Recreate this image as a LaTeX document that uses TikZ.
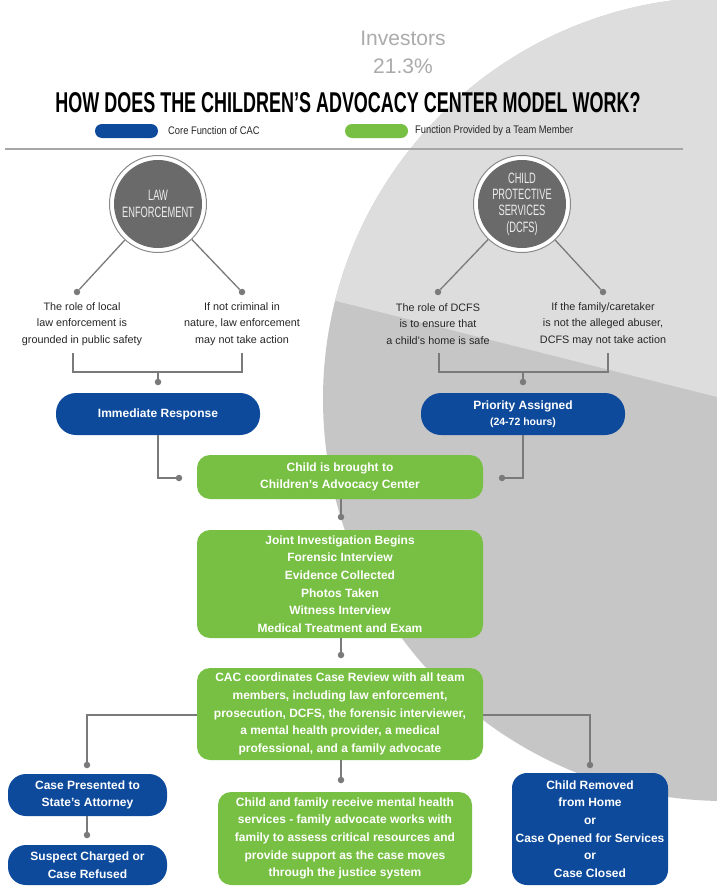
\documentclass[tikz,border=0pt]{standalone}
\usepackage{fontspec}
\usepackage{graphicx}
\setmainfont{Liberation Sans}
\newfontfamily\condfont[FakeStretch=0.62]{Liberation Sans}
\newfontfamily\legfont[FakeStretch=0.85]{Liberation Sans}
\definecolor{cacblue}{HTML}{0D4A9C}
\definecolor{cacgreen}{HTML}{77C043}
\definecolor{circgray}{HTML}{6A6A6A}
\definecolor{ringgray}{HTML}{8A8A8A}
\definecolor{linegray}{HTML}{7A7A7A}
\definecolor{pieLight}{HTML}{DDDDDD}
\definecolor{pieDark}{HTML}{C6C6C6}
\definecolor{labelgray}{HTML}{ABABAB}
\definecolor{notecol}{HTML}{262626}
\definecolor{circtext}{HTML}{EDEDED}
\tikzset{
 conn/.style={draw=linegray, line width=1.3pt},
 dotnode/.style={circle, fill=linegray, inner sep=0pt, minimum size=6.5pt},
 boxblue/.style={fill=cacblue, text=white, align=center, inner sep=0pt, font=\bfseries\fontsize{12}{17.6}\selectfont},
 boxgreen/.style={fill=cacgreen, text=white, align=center, inner sep=0pt, rounded corners=13pt, font=\bfseries\fontsize{12}{17.6}\selectfont},
 notetext/.style={text=notecol, align=center, inner sep=0pt, font=\fontsize{10.8}{16.5}\selectfont},
 ringnode/.style={circle, fill=white, draw=ringgray, line width=1pt, minimum size=97pt, inner sep=0pt},
 corenode/.style={circle, fill=circgray, minimum size=88pt, inner sep=0pt, text=circtext, align=center, font=\condfont\fontsize{15}{16.3}\selectfont},
 legtext/.style={text=notecol, anchor=west, inner sep=0pt, font=\legfont\fontsize{11}{12}\selectfont},
}
\begin{document}
\begin{tikzpicture}[x=1pt,y=-1pt]
\useasboundingbox (0,0) rectangle (717,886);
\fill[white] (0,0) rectangle (717,886);
% background pie chart
\begin{scope}
  \clip (0,0) rectangle (717,886);
  \fill[pieDark] (725,399) circle[radius=402];
  \begin{scope}
    \clip (725,399) circle[radius=402];
    \fill[pieLight] (725,399) -- (-5,215) -- (-5,-420) -- (740,-420) -- cycle;
  \end{scope}
\end{scope}
\node[text=labelgray, inner sep=0pt, font=\fontsize{21}{21}\selectfont] (inv) at (403,38) {Investors};
\node[text=labelgray, inner sep=0pt, font=\fontsize{21}{21}\selectfont] (invp) at (403,66) {21.3\%};
% title
\node[inner sep=0pt] (title) at (348,103) {\resizebox{585pt}{20pt}{\bfseries HOW DOES THE CHILDREN’S ADVOCACY CENTER MODEL WORK?}};
% legend
\node[fill=cacblue, rounded corners=7pt, minimum width=63pt, minimum height=14pt, inner sep=0pt] (lgb) at (126.5,131) {};
\node[legtext] (lgbt) at (168,131) {Core Function of CAC};
\node[fill=cacgreen, rounded corners=7pt, minimum width=63pt, minimum height=14pt, inner sep=0pt] (lgg) at (376.5,131) {};
\node[legtext] (lggt) at (415,131) {Function Provided by a Team Member};
\coordinate (sepL) at (5,149);
\coordinate (sepR) at (683,149);
\draw[draw=gray!70, line width=1.2pt] (sepL) -- (sepR);
% circles
\node[ringnode] (leR) at (158,204) {};
\node[corenode] (le) at (158,204) {LAW\\ENFORCEMENT};
\node[ringnode] (cpR) at (522,204) {};
\node[corenode] (cp) at (522,204) {CHILD\\PROTECTIVE\\SERVICES\\(DCFS)};
% dots under circles
\node[dotnode] (ld1) at (77,292) {};
\node[dotnode] (ld2) at (242,292) {};
\node[dotnode] (rd1) at (438,292) {};
\node[dotnode] (rd2) at (603,292) {};
\draw[conn] (leR) -- (ld1);
\draw[conn] (leR) -- (ld2);
\draw[conn] (cpR) -- (rd1);
\draw[conn] (cpR) -- (rd2);
% notes
\node[notetext] (ln1) at (82,324) {The role of local\\law enforcement is\\grounded in public safety};
\node[notetext] (ln2) at (242,324) {If not criminal in\\nature, law enforcement\\may not take action};
\node[notetext] (rn1) at (438,324) {The role of DCFS\\is to ensure that\\a child’s home is safe};
\node[notetext] (rn2) at (603,324) {If the family/caretaker\\is not the alleged abuser,\\DCFS may not take action};
% brackets
\coordinate (lb1) at (73,353);
\coordinate (lb2) at (242,353);
\coordinate (lbm) at (158,372);
\coordinate (rb1) at (439,353);
\coordinate (rb2) at (608,353);
\coordinate (rbm) at (523,372);
\node[dotnode] (ld3) at (158,382) {};
\node[dotnode] (rd3) at (523,382) {};
\draw[conn] (lb1) |- (lbm) -| (lb2);
\draw[conn] (rb1) |- (rbm) -| (rb2);
\draw[conn] (lbm) -- (ld3);
\draw[conn] (rbm) -- (rd3);
% blue response boxes
\node[boxblue, minimum width=204pt, minimum height=42pt, rounded corners=20pt] (imm) at (158,414) {Immediate Response};
\node[boxblue, minimum width=204pt, minimum height=42pt, rounded corners=20pt] (pri) at (523,414) {Priority Assigned\\[-1.5pt]{\fontsize{10.5}{12}\selectfont(24-72 hours)}};
% green chain
\node[boxgreen, minimum width=286pt, minimum height=44pt] (cac) at (340,477) {Child is brought to\\Children’s Advocacy Center};
\node[dotnode] (d5) at (179,478) {};
\node[dotnode] (d6) at (502,478) {};
\draw[conn] (imm.south) |- (d5);
\draw[conn] (pri.south) |- (d6);
\node[boxgreen, minimum width=286pt, minimum height=108pt] (joint) at (340,584) {Joint Investigation Begins\\Forensic Interview\\Evidence Collected\\Photos Taken\\Witness Interview\\Medical Treatment and Exam};
\node[dotnode] (d7) at (341,517) {};
\draw[conn] (cac.south -| d7) -- (d7);
\node[boxgreen, minimum width=286pt, minimum height=92pt] (rev) at (340,714) {CAC coordinates Case Review with all team\\members, including law enforcement,\\prosecution, DCFS, the forensic interviewer,\\a mental health provider, a medical\\professional, and a family advocate};
\node[dotnode] (d8) at (341,655) {};
\draw[conn] (joint.south -| d8) -- (d8);
% bottom row
\node[dotnode] (d9) at (87,765) {};
\node[dotnode] (d10) at (590,765) {};
\node[dotnode] (d11) at (341,780) {};
\coordinate (revL) at (197,715);
\coordinate (revR) at (483,715);
\draw[conn] (revL) -| (d9);
\draw[conn] (revR) -| (d10);
\draw[conn] (rev.south -| d11) -- (d11);
\node[boxblue, minimum width=159pt, minimum height=42pt, rounded corners=18pt] (sa) at (87.5,795) {Case Presented to\\State’s Attorney};
\node[dotnode] (d12) at (87,835) {};
\draw[conn] (sa.south -| d12) -- (d12);
\node[boxblue, minimum width=159pt, minimum height=40pt, rounded corners=18pt] (sc) at (87.5,865) {Suspect Charged or\\Case Refused};
\node[boxgreen, minimum width=254pt, minimum height=93pt] (fam) at (345,838.5) {Child and family receive mental health\\services - family advocate works with\\family to assess critical resources and\\provide support as the case moves\\through the justice system};
\node[boxblue, minimum width=156pt, minimum height=112pt, rounded corners=15pt] (rem) at (590,829) {Child Removed\\from Home\\or\\Case Opened for Services\\or\\Case Closed};
\end{tikzpicture}
\end{document}
